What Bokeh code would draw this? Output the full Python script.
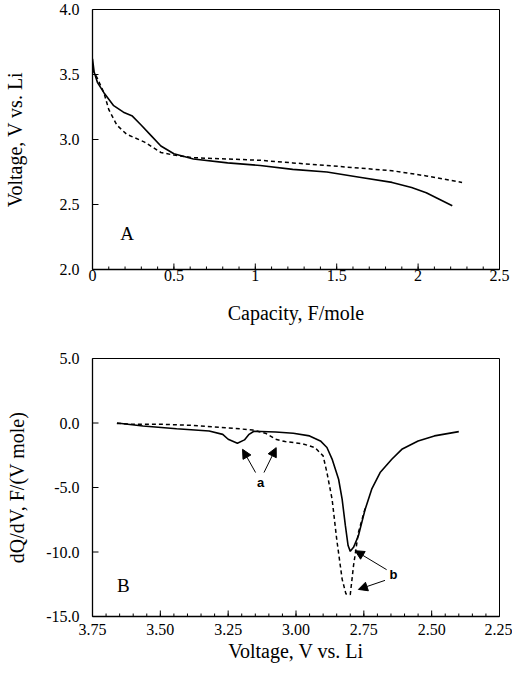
import math
from bokeh.plotting import figure
from bokeh.layouts import column
from bokeh.models import Range1d, FixedTicker, Label, Arrow, NormalHead, PrintfTickFormatter
from bokeh.embed import file_html
from bokeh.resources import INLINE

# ---- Panel A data: voltage vs capacity ----
capA_solid = [0.0, 0.01, 0.03, 0.07, 0.13, 0.19, 0.245, 0.30, 0.36, 0.42, 0.50, 0.62, 0.83, 1.03, 1.23, 1.44, 1.64, 1.84, 1.96, 2.05, 2.13, 2.21]
vA_solid = [3.62, 3.52, 3.44, 3.36, 3.26, 3.21, 3.18, 3.11, 3.03, 2.95, 2.89, 2.85, 2.82, 2.80, 2.77, 2.75, 2.71, 2.67, 2.63, 2.59, 2.54, 2.49]
capA_dash = [0.0, 0.03, 0.07, 0.10, 0.15, 0.21, 0.32, 0.42, 0.50, 0.62, 0.83, 1.03, 1.23, 1.44, 1.64, 1.84, 2.05, 2.27]
vA_dash = [3.54, 3.47, 3.36, 3.23, 3.11, 3.04, 2.98, 2.90, 2.88, 2.86, 2.85, 2.84, 2.82, 2.80, 2.78, 2.76, 2.72, 2.67]

xA_ticks = [0, 0.5, 1, 1.5, 2, 2.5]
xA_labels = ["0", "0.5", "1", "1.5", "2", "2.5"]
xA_minor = [round(i * 0.1, 1) for i in range(26)]
yA_ticks = [2.0, 2.5, 3.0, 3.5, 4.0]

# ---- Panel B data: dQ/dV vs voltage ----
vB_solid = [3.66, 3.564, 3.44, 3.32, 3.27, 3.25, 3.216, 3.19, 3.173, 3.155, 3.075, 3.01, 2.95, 2.91, 2.886, 2.867, 2.843, 2.83, 2.818, 2.808, 2.80, 2.788, 2.77, 2.745, 2.721, 2.69, 2.647, 2.61, 2.55, 2.49, 2.40]
dq_solid = [0.0, -0.23, -0.44, -0.62, -0.88, -1.26, -1.57, -1.31, -0.88, -0.64, -0.70, -0.80, -1.0, -1.39, -1.9, -2.8, -4.36, -5.9, -7.96, -9.5, -9.95, -9.64, -8.74, -6.68, -5.13, -3.84, -2.81, -2.04, -1.39, -1.0, -0.67]
vB_dash = [3.66, 3.60, 3.50, 3.38, 3.26, 3.16, 3.11, 3.075, 3.04, 2.977, 2.93, 2.90, 2.886, 2.867, 2.85, 2.83, 2.816, 2.80, 2.788, 2.77, 2.745]
dq_dash = [-0.03, -0.10, -0.10, -0.18, -0.36, -0.54, -0.82, -1.26, -1.44, -1.60, -1.91, -2.55, -3.84, -5.9, -9.0, -12.1, -13.25, -13.3, -11.06, -8.48, -6.6]

xB_ticks = [3.75, 3.50, 3.25, 3.00, 2.75, 2.50, 2.25]
xB_minor = [round(2.25 + i * 0.05, 2) for i in range(31)]
yB_ticks = [5.0, 0.0, -5.0, -10.0, -15.0]

# annotation positions (data units)
a_label = (3.13, -4.6)
a_arrows = [((3.149, -3.84), (3.197, -2.04)), ((3.118, -3.84), (3.073, -1.91))]
b_label = (2.641, -11.75)
b_arrows = [((2.666, -11.37), (2.782, -9.9)), ((2.672, -12.2), (2.77, -12.9))]

SERIF = "Liberation Serif"


def style(p, ytitle_standoff, xlabel_standoff, xtitle_standoff):
    p.outline_line_color = "black"
    p.outline_line_width = 1
    p.xgrid.visible = False
    p.ygrid.visible = False
    p.background_fill_color = "white"
    p.border_fill_color = "white"
    for ax in (p.xaxis[0], p.yaxis[0]):
        ax.axis_line_color = "black"
        ax.axis_line_width = 1.3
        ax.major_tick_in = 0
        ax.major_tick_out = 0
        ax.minor_tick_in = 0
        ax.minor_tick_out = 0
        ax.major_label_text_font = SERIF
        ax.major_label_text_font_size = "16px"
        ax.major_label_text_color = "black"
        ax.axis_label_text_font = SERIF
        ax.axis_label_text_font_size = "20px"
        ax.axis_label_text_font_style = "normal"
        ax.axis_label_text_color = "black"
    p.yaxis[0].major_label_standoff = 13
    p.xaxis[0].major_label_standoff = xlabel_standoff
    p.yaxis[0].axis_label_standoff = ytitle_standoff
    p.xaxis[0].axis_label_standoff = xtitle_standoff


# ---- Figure A ----
pA = figure(width=512, height=326, output_backend="svg", toolbar_location=None,
            x_range=Range1d(0, 2.5), y_range=Range1d(2.0, 4.0),
            min_border_left=90, min_border_right=13, min_border_top=9, min_border_bottom=57)
pA.line(capA_solid, vA_solid, line_color="black", line_width=1.6)
pA.line(capA_dash, vA_dash, line_color="black", line_width=1.5, line_dash="4 3")
pA.xaxis.ticker = FixedTicker(ticks=xA_ticks, minor_ticks=xA_minor)
pA.xaxis.major_label_overrides = {t: l for t, l in zip(xA_ticks, xA_labels)}
pA.yaxis.ticker = FixedTicker(ticks=yA_ticks, minor_ticks=[])
pA.yaxis.formatter = PrintfTickFormatter(format="%.1f")
pA.xaxis.axis_label = "Capacity, F/mole"
pA.yaxis.axis_label = "Voltage, V vs. Li"
style(pA, 31, 0, 18)
pA.ray(x=xA_ticks, y=[2.0] * len(xA_ticks), length=6, angle=math.pi / 2, length_units="screen", line_color="black")
pA.ray(x=xA_minor, y=[2.0] * len(xA_minor), length=3, angle=math.pi / 2, length_units="screen", line_color="black")
pA.ray(x=[0.0] * len(yA_ticks), y=yA_ticks, length=6, angle=0, length_units="screen", line_color="black")
pA.add_layout(Label(x=0.17, y=2.2, text="A", text_font=SERIF, text_font_size="19px", text_color="black"))

# ---- Figure B ----
pB = figure(width=512, height=338, output_backend="svg", toolbar_location=None,
            x_range=Range1d(3.75, 2.25), y_range=Range1d(-15.0, 5.0),
            min_border_left=91, min_border_right=12, min_border_top=32, min_border_bottom=48)
pB.line(vB_solid, dq_solid, line_color="black", line_width=1.6)
pB.line(vB_dash, dq_dash, line_color="black", line_width=1.5, line_dash="4 3")
pB.xaxis.ticker = FixedTicker(ticks=xB_ticks, minor_ticks=xB_minor)
pB.xaxis.formatter = PrintfTickFormatter(format="%.2f")
pB.yaxis.ticker = FixedTicker(ticks=yB_ticks, minor_ticks=[])
pB.yaxis.formatter = PrintfTickFormatter(format="%.1f")
pB.xaxis.axis_label = "Voltage, V vs. Li"
pB.yaxis.axis_label = "dQ/dV, F/(V mole)"
style(pB, 15, 7, 2)
pB.ray(x=xB_ticks, y=[-15.0] * len(xB_ticks), length=6, angle=math.pi / 2, length_units="screen", line_color="black")
pB.ray(x=xB_minor, y=[-15.0] * len(xB_minor), length=3, angle=math.pi / 2, length_units="screen", line_color="black")
pB.ray(x=[3.75] * len(yB_ticks), y=yB_ticks, length=6, angle=0, length_units="screen", line_color="black")
pB.add_layout(Label(x=3.66, y=-13.4, text="B", text_font=SERIF, text_font_size="19px", text_color="black"))

for (x0, y0), (x1, y1) in a_arrows + b_arrows:
    pB.add_layout(Arrow(x_start=x0, y_start=y0, x_end=x1, y_end=y1, line_color="black", line_width=1,
                        end=NormalHead(size=9, fill_color="black", line_color="black")))
pB.add_layout(Label(x=a_label[0], y=a_label[1], text="a", text_font="Liberation Sans", text_font_style="bold",
                    text_font_size="13px", text_align="center", text_baseline="middle", text_color="black"))
pB.add_layout(Label(x=b_label[0], y=b_label[1], text="b", text_font="Liberation Sans", text_font_style="bold",
                    text_font_size="13px", text_align="center", text_baseline="middle", text_color="black"))

layout = column(pA, pB, spacing=0)
open("out.html", "w").write(file_html(layout, INLINE))
